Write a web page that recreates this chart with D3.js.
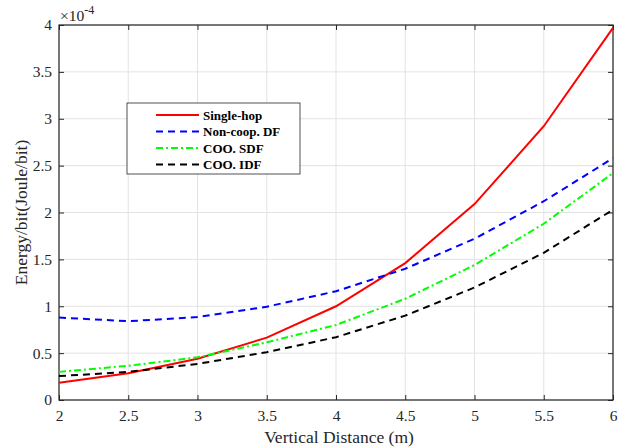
<!DOCTYPE html>
<html>
<head>
<meta charset="utf-8">
<script src="https://cdn.jsdelivr.net/npm/d3@7"></script>
<style>
  body { margin: 0; background: #fff; }
</style>
</head>
<body>
<div id="chart"></div>
<script>
// data (y values in units of 1e-4 Joule/bit)
const distances = [2, 2.5, 3, 3.5, 4, 4.5, 5, 5.5, 6]
const singleHop = [0.185, 0.285, 0.44, 0.665, 1.0, 1.46, 2.09, 2.92, 3.97]
const nonCoopDF = [0.88, 0.84, 0.885, 0.995, 1.16, 1.40, 1.72, 2.12, 2.58]
const cooSDF = [0.30, 0.365, 0.455, 0.615, 0.80, 1.08, 1.44, 1.88, 2.42]
const cooIDF = [0.255, 0.30, 0.385, 0.51, 0.67, 0.90, 1.20, 1.57, 2.03]
const xTicks = [2, 2.5, 3, 3.5, 4, 4.5, 5, 5.5, 6]
const yTicks = [0, 0.5, 1, 1.5, 2, 2.5, 3, 3.5, 4]
const seriesNames = ['Single-hop', 'Non-coop. DF', 'COO. SDF', 'COO. IDF']

const series = [
    {name: seriesNames[0], values: singleHop, color: '#ff0000', dash: null},
    {name: seriesNames[1], values: nonCoopDF, color: '#0000ff', dash: '7,5'},
    {name: seriesNames[2], values: cooSDF, color: '#00ff00', dash: '7,3,2,3'},
    {name: seriesNames[3], values: cooIDF, color: '#000000', dash: '7,5'}
]

const FONT = 'Liberation Serif, Times New Roman, serif'
const W = 624, H = 447
const margin = {left: 59, right: 11, top: 25, bottom: 47}

const svg = d3.select('#chart').append('svg')
    .attr('width', W)
    .attr('height', H)
    .attr('font-family', FONT)

const x = d3.scaleLinear().domain([2, 6]).range([margin.left, W - margin.right])
const y = d3.scaleLinear().domain([0, 4]).range([H - margin.bottom, margin.top])

const axisColor = '#262626'

// GRID
const grid = svg.append('g').attr('class', 'grid')
grid.selectAll('.vg').data(xTicks).join('line')
    .attr('x1', d => x(d)).attr('x2', d => x(d))
    .attr('y1', y(0)).attr('y2', y(4))
    .attr('stroke', '#e3e3e3').attr('stroke-width', 1)
grid.selectAll('.hg').data(yTicks).join('line')
    .attr('y1', d => y(d)).attr('y2', d => y(d))
    .attr('x1', x(2)).attr('x2', x(6))
    .attr('stroke', '#e3e3e3').attr('stroke-width', 1)

// AXES (MATLAB style, ticks inside, box on)
const tickLen = 5
svg.append('g')
    .attr('transform', `translate(0,${y(0)})`)
    .call(d3.axisBottom(x).tickValues(xTicks).tickSize(-tickLen).tickPadding(10).tickFormat(d3.format('')))
    .call(g => g.select('.domain').remove())
svg.append('g')
    .attr('transform', `translate(0,${y(4)})`)
    .call(d3.axisTop(x).tickValues(xTicks).tickSize(-tickLen).tickFormat(''))
    .call(g => g.select('.domain').remove())
svg.append('g')
    .attr('transform', `translate(${x(2)},0)`)
    .call(d3.axisLeft(y).tickValues(yTicks).tickSize(-tickLen).tickPadding(7).tickFormat(d3.format('')))
    .call(g => g.select('.domain').remove())
svg.append('g')
    .attr('transform', `translate(${x(6)},0)`)
    .call(d3.axisRight(y).tickValues(yTicks).tickSize(-tickLen).tickFormat(''))
    .call(g => g.select('.domain').remove())

svg.selectAll('.tick line').attr('stroke', axisColor)
svg.selectAll('g.tick').select(function () { return this.parentNode })
    .attr('font-family', FONT)
    .attr('font-size', 15.5)
svg.selectAll('.tick text')
    .attr('fill', axisColor)

svg.append('rect')
    .attr('x', x(2)).attr('y', y(4))
    .attr('width', x(6) - x(2)).attr('height', y(0) - y(4))
    .attr('fill', 'none')
    .attr('stroke', axisColor)
    .attr('stroke-width', 1.2)

// exponent label
const expo = svg.append('text')
    .attr('x', x(2) + 1).attr('y', 21)
    .attr('fill', axisColor)
    .attr('font-size', 15.5)
expo.append('tspan').text('\u00d710')
expo.append('tspan').attr('dy', -7).attr('font-size', 12).text('-4')

// axis titles
svg.append('text')
    .attr('x', (x(2) + x(6)) / 2 + 3).attr('y', 443)
    .attr('text-anchor', 'middle')
    .attr('fill', axisColor)
    .attr('font-size', 17.5)
    .text('Vertical Distance (m)')
svg.append('text')
    .attr('transform', `translate(27,${(y(0) + y(4)) / 2}) rotate(-90)`)
    .attr('text-anchor', 'middle')
    .attr('fill', axisColor)
    .attr('font-size', 17.5)
    .text('Energy/bit(Joule/bit)')

// LINES
const line = d3.line()
    .x((d, i) => x(distances[i]))
    .y(d => y(d))

svg.append('g').attr('class', 'lines')
    .selectAll('path')
    .data(series)
    .join('path')
    .attr('d', d => line(d.values))
    .attr('fill', 'none')
    .attr('stroke', d => d.color)
    .attr('stroke-width', 2)
    .attr('stroke-dasharray', d => d.dash)

// LEGEND
const legend = svg.append('g').attr('transform', 'translate(127,103)')
legend.append('rect')
    .attr('width', 173).attr('height', 71)
    .attr('fill', '#fff')
    .attr('stroke', axisColor)
    .attr('stroke-width', 0.8)
const rows = legend.selectAll('.row').data(series).join('g')
    .attr('transform', (d, i) => `translate(0,${12 + i * 16.5})`)
rows.append('line')
    .attr('x1', 29).attr('x2', 72)
    .attr('stroke', d => d.color)
    .attr('stroke-width', 2)
    .attr('stroke-dasharray', d => d.dash)
rows.append('text')
    .attr('x', 76).attr('y', 4.5)
    .attr('fill', '#000')
    .attr('font-size', 13)
    .attr('font-weight', 'bold')
    .text(d => d.name)
</script>
</body>
</html>
